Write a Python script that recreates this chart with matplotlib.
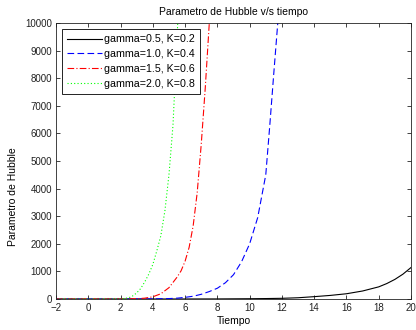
import matplotlib
matplotlib.use("Agg")
import matplotlib.pyplot as plt

plt.rcParams['font.family'] = ['Liberation Sans', 'DejaVu Sans']

title = "Parametro de Hubble v/s tiempo"
xlabel = "Tiempo"
ylabel = "Parametro de Hubble"
labels = ["gamma=0.5, K=0.2", "gamma=1.0, K=0.4", "gamma=1.5, K=0.6", "gamma=2.0, K=0.8"]
xticks = list(range(-2, 21, 2))
yticks = list(range(0, 10001, 1000))

# curve samples
x_black = [-2, 0, 2, 4, 6, 8, 10, 11, 12, 13, 14, 15, 16, 17, 18, 18.5, 19, 19.5, 20]
y_black = [0, 0, 0, 0, 1, 3, 10, 16, 25, 45, 85, 130, 190, 290, 440, 560, 710, 900, 1140]

x_blue = [-2, 0, 2, 4, 5, 5.5, 6, 6.5, 7, 7.5, 8, 8.5, 9, 9.5, 10, 10.5, 11, 11.25, 11.5, 11.75, 11.85]
y_blue = [0, 0, 1, 5, 15, 30, 60, 100, 170, 270, 390, 590, 880, 1350, 2000, 2950, 4500, 6300, 8200, 10050, 11000]

x_red = [-2, 0, 2, 3, 3.5, 4, 4.5, 5, 5.5, 5.75, 6, 6.25, 6.5, 6.75, 7, 7.25, 7.5, 7.6]
y_red = [0, 0, 2, 10, 30, 80, 190, 410, 790, 1020, 1370, 1870, 2650, 3850, 5600, 7650, 10000, 11000]

x_green = [-2, 0, 1, 2, 2.5, 2.75, 3, 3.25, 3.5, 3.75, 4, 4.25, 4.5, 4.75, 5, 5.25, 5.5, 5.6]
y_green = [0, 0, 1, 5, 40, 110, 220, 380, 620, 900, 1250, 1750, 2300, 3200, 4500, 6300, 9400, 10800]

fig = plt.figure(figsize=(4.16, 3.30), dpi=100)
ax = fig.add_axes([56/416, 1-299/330, 355/416, 276/330])

ax.plot(x_black, y_black, color='k', lw=0.8, ls='-', label=labels[0])
ax.plot(x_blue, y_blue, color='b', lw=0.8, ls=(0, (6, 3)), label=labels[1])
ax.plot(x_red, y_red, color='r', lw=0.8, ls=(0, (6, 2, 1, 2)), label=labels[2])
ax.plot(x_green, y_green, color=(0, 1, 0), lw=0.8, ls=(0, (1, 2)), label=labels[3])

ax.set_xlim(-2, 20)
ax.set_ylim(0, 10000)
ax.set_xticks(xticks)
ax.set_yticks(yticks)
ax.tick_params(direction='in', top=True, right=True, labelsize=7, length=3, width=0.6,
               colors='#222222', pad=3)
for s in ax.spines.values():
    s.set_linewidth(0.6)
    s.set_color('#222222')

ax.set_title(title, fontsize=7.5, pad=5.5)
ax.set_xlabel(xlabel, fontsize=7.5, labelpad=2)
ax.set_ylabel(ylabel, fontsize=7.5)
ax.yaxis.set_label_coords(-0.107, 0.37)

leg = ax.legend(loc='upper left', bbox_to_anchor=(6/355, (299-29)/276), borderaxespad=0,
                fontsize=7.7, frameon=True, fancybox=False,
                edgecolor='k', framealpha=1, handlelength=3.2,
                labelspacing=0.45, borderpad=0.5, handletextpad=0.2)
leg.get_frame().set_linewidth(0.6)

fig.savefig("out.png", dpi=100)
